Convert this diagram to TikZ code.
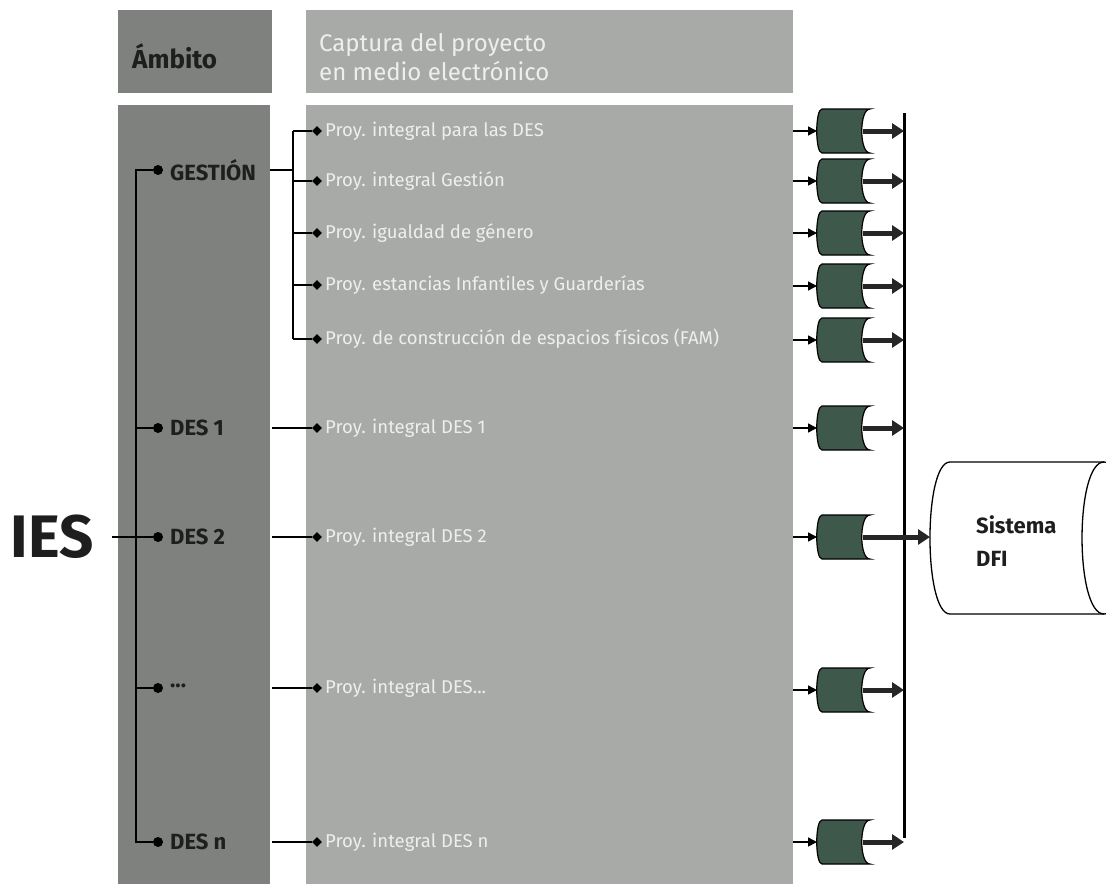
\documentclass[tikz,border=0pt]{standalone}
\usepackage{fontspec}
\setmainfont{Fira Sans}
\usetikzlibrary{arrows.meta,shapes.geometric}
\definecolor{colL}{RGB}{126,129,126}
\definecolor{colM}{RGB}{168,170,168}
\definecolor{storeg}{RGB}{62,88,76}
\definecolor{darktxt}{RGB}{30,30,30}
\definecolor{lighttxt}{RGB}{238,238,238}
\tikzset{
  dotn/.style={circle,fill=black,minimum size=10pt,inner sep=0pt},
  dian/.style={diamond,fill=black,minimum size=10pt,inner sep=0pt},
  lbl/.style={anchor=west,text=darktxt,font=\bfseries\fontsize{22}{26}\selectfont,inner sep=0pt},
  ptxt/.style={anchor=west,text=lighttxt,font=\fontsize{18.5}{22}\selectfont,inner sep=0pt},
  conn/.style={draw=black,line width=1.4pt},
  sarrow/.style={draw=black,line width=1.5pt,-{Triangle[length=9pt,width=9pt]}},
  barrow/.style={draw=black!85,line width=5pt,-{Triangle[length=12pt,width=15pt]}},
  bus/.style={draw=black,line width=3pt},
  datastore/.pic={
    \fill[storeg,draw=black,line width=1.2pt] (-21,-22) -- (27,-22)
      .. controls (16,-22) and (16,22) .. (27,22) -- (-21,22)
      .. controls (-28,22) and (-28,-22) .. (-21,-22) -- cycle;
    \coordinate (-w) at (-26,0);
    \coordinate (-e) at (20,0);
  }
}
\begin{document}
\begin{tikzpicture}[x=1pt,y=-1pt]
\useasboundingbox (0,0) rectangle (1106,884);
\begin{scope}
\clip (0,0) rectangle (1106,884);
% columns
\fill[colL] (118,10) rectangle (272,93);
\fill[colM] (306,10) rectangle (793,93);
\node[fill=colL,minimum width=152pt,minimum height=779pt,inner sep=0pt,anchor=north west] (left) at (118,105) {};
\node[fill=colM,minimum width=487pt,minimum height=779pt,inner sep=0pt,anchor=north west] (mid) at (306,105) {};
% headers
\node[anchor=west,text=darktxt,font=\bfseries\fontsize{26}{30}\selectfont,inner sep=0pt] (amb) at (132,56) {Ámbito};
\node[anchor=west,align=left,text=lighttxt,font=\fontsize{24}{29}\selectfont,inner sep=0pt] (cap) at (319,57) {Captura del proyecto\\en medio electrónico};
% IES
\node[anchor=east,text=darktxt,font=\bfseries\fontsize{60}{66}\selectfont,inner sep=0pt] (ies) at (94,537) {IES};
% left dots and labels
\node[dotn] (d0) at (158,170) {};
\node[lbl] (l0) at (170,170) {GESTIÓN};
\node[dotn] (d1) at (158,428) {};
\node[lbl] (l1) at (170,428) {DES 1};
\node[dotn] (d2) at (158,537) {};
\node[lbl] (l2) at (170,537) {DES 2};
\node[dotn] (d3) at (158,688) {};
\node[lbl] (l3) at (170,686) {...};
\node[dotn] (d4) at (158,842) {};
\node[lbl] (l4) at (170,842) {DES n};
% spine
\coordinate (st) at (136,170);
\coordinate (sb) at (136,842);
\draw[conn,line width=1.2pt] (d0) -- (st) -- (sb) -- (d4);
\draw[conn,line width=1.2pt] (st |- d1) -- (d1);
\draw[conn,line width=1.2pt] (st |- d3) -- (d3);
\coordinate (iesr) at (112,537);
\draw[conn] (iesr) -- (d2);
% gestion projects
\node[dian] (p1d) at (317,131) {};
\node[ptxt] (p1) at (325,131) {Proy. integral para las DES};
\node[dian] (p2d) at (317,181) {};
\node[ptxt] (p2) at (325,181) {Proy. integral Gestión};
\node[dian] (p3d) at (317,233) {};
\node[ptxt] (p3) at (325,233) {Proy. igualdad de género};
\node[dian] (p4d) at (317,285) {};
\node[ptxt] (p4) at (325,285) {Proy. estancias Infantiles y Guarderías};
\node[dian] (p5d) at (317,339) {};
\node[ptxt] (p5) at (325,339) {Proy. de construcción de espacios físicos (FAM)};
\coordinate (g0) at (270,170);
\coordinate (gj) at (293,170);
\draw[conn] (g0) -- (gj);
\draw[conn] (gj |- p1d) -- (gj |- p5d);
\foreach \i in {1,...,5}{\draw[conn] (gj |- p\i d) -- (p\i d);}
% DES projects
\node[dian] (q1d) at (317,428) {};
\node[ptxt] (q1) at (325,428) {Proy. integral DES 1};
\node[dian] (q2d) at (317,537) {};
\node[ptxt] (q2) at (325,537) {Proy. integral DES 2};
\node[dian] (q3d) at (317,688) {};
\node[ptxt] (q3) at (325,688) {Proy. integral DES...};
\node[dian] (q4d) at (317,842) {};
\node[ptxt] (q4) at (325,842) {Proy. integral DES n};
\foreach \i in {1,...,4}{\draw[conn] (left.east |- q\i d) ++(2,0) -- (q\i d);}
% stores
\pic (s1) at (843,131) {datastore};
\pic (s2) at (843,181) {datastore};
\pic (s3) at (843,233) {datastore};
\pic (s4) at (843,286) {datastore};
\pic (s5) at (843,340) {datastore};
\pic (s6) at (843,428) {datastore};
\pic (s7) at (843,537) {datastore};
\pic (s8) at (843,690) {datastore};
\pic (s9) at (843,842) {datastore};
\foreach \i in {1,...,9}{\draw[sarrow] (mid.east |- s\i-w) -- (s\i-w);}
% bus
\coordinate (bt) at (904,113);
\coordinate (bb) at (904,838);
\draw[bus] (bt) -- (bb);
\foreach \i in {1,2,3,4,5,6,8,9}{\draw[barrow] (s\i-e) -- (bt |- s\i-e);}
% cylinder
\coordinate (cylw) at (930,537);
\filldraw[fill=white,draw=black,line width=1.3pt]
  (950,462) -- (1104,462) .. controls (1133,462) and (1133,614) .. (1104,614)
  -- (950,614) .. controls (923.3,614) and (923.3,462) .. (950,462) -- cycle;
\draw[black,line width=1.3pt] (1104,462) .. controls (1074.7,462) and (1074.7,614) .. (1104,614);
\node[anchor=west,align=left,text=darktxt,font=\bfseries\fontsize{22}{33}\selectfont,inner sep=0pt] (dfi) at (976,541) {Sistema\\DFI};
\draw[barrow] (s7-e) -- (cylw);
\end{scope}
\end{tikzpicture}
\end{document}
